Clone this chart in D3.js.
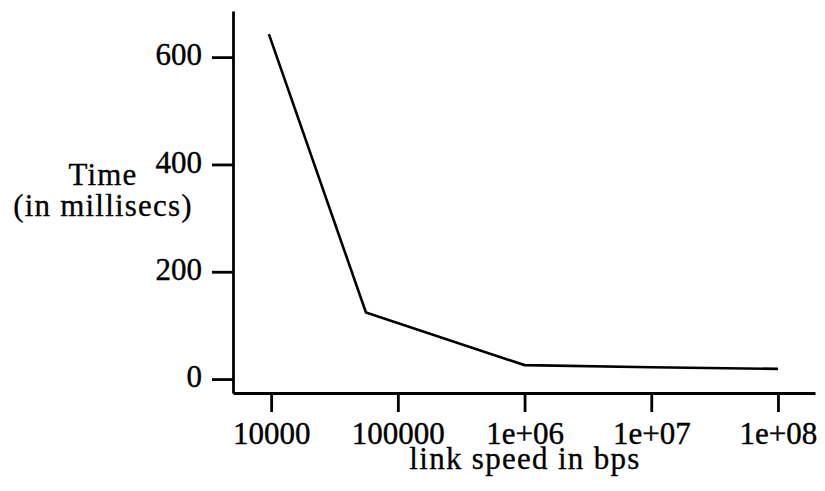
<!DOCTYPE html>
<html>
<head>
<meta charset="utf-8">
<script src="https://cdn.jsdelivr.net/npm/d3@7"></script>
<style>
  body { margin: 0; background: #fff; }
  text { font-family: "Liberation Serif", "DejaVu Serif", serif; fill: #000; }
</style>
</head>
<body>
<div id="chart"></div>
<script>
// link speed (bps) vs time (ms)
const speeds = [9600, 56000, 1e6, 1e7, 1e8];
const times = [643, 124, 26, 22, 19];
const xTicks = [1e4, 1e5, 1e6, 1e7, 1e8];
const xTickLabels = ["10000", "100000", "1e+06", "1e+07", "1e+08"];
const yTicks = [0, 200, 400, 600];

const width = 825, height = 491;

const svg = d3.select("#chart")
  .append("svg")
  .attr("width", width)
  .attr("height", height);

const x = d3.scaleLog()
  .domain([5000, 1.96e8])
  .range([233, 815]);

const y = d3.scaleLinear()
  .domain([-26, 686])
  .range([393, 11]);

// x axis
const gx = svg.append("g")
  .attr("transform", "translate(0,393)")
  .call(d3.axisBottom(x)
    .tickValues(xTicks)
    .tickFormat((d, i) => xTickLabels[i])
    .tickSize(19)
    .tickSizeOuter(0)
    .tickPadding(10));

// y axis
const gy = svg.append("g")
  .attr("transform", "translate(233,0)")
  .call(d3.axisLeft(y)
    .tickValues(yTicks)
    .tickSize(21)
    .tickSizeOuter(0)
    .tickPadding(10));

[gx, gy].forEach(g => {
  g.attr("font-family", null).attr("font-size", null);
  g.selectAll("path, line").attr("stroke", "#000").attr("stroke-width", 2.8);
  g.selectAll("text")
    .style("font-size", "31px")
    .attr("stroke", "#000")
    .attr("stroke-width", 0.4);
});
gy.selectAll("text").attr("dy", "0.25em");

// the data line
const line = d3.line()
  .x((d, i) => x(speeds[i]))
  .y(d => y(d));

svg.append("path")
  .datum(times)
  .attr("d", line)
  .attr("fill", "none")
  .attr("stroke", "#000")
  .attr("stroke-width", 2.6);

// axis titles
svg.append("text")
  .attr("x", 525)
  .attr("y", 469)
  .attr("text-anchor", "middle")
  .style("font-size", "31px")
  .style("letter-spacing", "1.3px")
  .attr("stroke", "#000")
  .attr("stroke-width", 0.3)
  .text("link speed in bps");

const ylab = svg.append("text")
  .attr("text-anchor", "middle")
  .style("font-size", "31px")
  .style("letter-spacing", "1.2px")
  .attr("stroke", "#000")
  .attr("stroke-width", 0.3);
ylab.append("tspan").attr("x", 103).attr("y", 185).text("Time");
ylab.append("tspan").attr("x", 103).attr("y", 216).text("(in millisecs)");
</script>
</body>
</html>
